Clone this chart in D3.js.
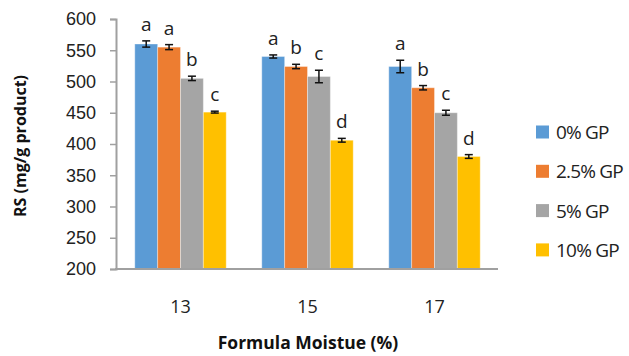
<!DOCTYPE html>
<html>
<head>
<meta charset="utf-8">
<script src="https://cdn.jsdelivr.net/npm/d3@7"></script>
<style>
  body { margin: 0; background: #fff; }
  svg { font-family: "Open Sans", "Liberation Sans", sans-serif; }
</style>
</head>
<body>
<div id="chart"></div>
<script>
const moisture = ["13", "15", "17"];
const levels = ["0% GP", "2.5% GP", "5% GP", "10% GP"];
const colors = ["#5b9bd5", "#ed7d31", "#a5a5a5", "#ffc000"];
// RS values per level, one entry per moisture
const rsValues = [
    [560, 540, 524],
    [555, 524, 490],
    [505, 508, 450],
    [451, 406, 380]
];
const rsErrors = [
    [5, 2.5, 10],
    [4, 3.5, 3.5],
    [3.5, 10, 4],
    [1.5, 3, 3]
];
const letters = [
    ["a", "a", "a"],
    ["a", "b", "b"],
    ["b", "c", "c"],
    ["c", "d", "d"]
];
const yTicks = [200, 250, 300, 350, 400, 450, 500, 550, 600];

const W = 629, H = 356;
const svg = d3.select("#chart").append("svg")
    .attr("width", W).attr("height", H);

const y = d3.scaleLinear().domain([200, 600]).range([269, 19]);
const x0 = d3.scaleBand().domain(moisture).range([117, 498]).paddingInner(0.28).paddingOuter(0.14);
const x1 = d3.scaleBand().domain(levels).range([0, x0.bandwidth()]);

// y axis
const yAxis = svg.append("g")
    .attr("transform", "translate(116,0)")
    .call(d3.axisLeft(y).tickValues(yTicks).tickSize(6).tickPadding(14));
yAxis.select(".domain").attr("stroke", "#a0a0a0").attr("stroke-width", 2);
yAxis.selectAll(".tick line").attr("stroke", "#a0a0a0").attr("stroke-width", 1.5);
yAxis.selectAll("text").attr("font-size", 18).attr("fill", "#222");

// bars
const groups = svg.append("g").selectAll("g")
    .data(moisture)
    .join("g")
    .attr("transform", d => `translate(${x0(d)},0)`);

levels.forEach((lvl, i) => {
    groups.append("rect")
        .attr("x", x1(lvl))
        .attr("width", x1.bandwidth())
        .attr("y", (d, j) => y(rsValues[i][j]))
        .attr("height", (d, j) => y(200) - y(rsValues[i][j]))
        .attr("fill", colors[i])
        .attr("stroke", "#fff").attr("stroke-opacity", 0.35).attr("stroke-width", 1);

    const cx = x1(lvl) + x1.bandwidth() / 2;
    groups.append("line")
        .attr("x1", cx).attr("x2", cx)
        .attr("y1", (d, j) => y(rsValues[i][j] + rsErrors[i][j]))
        .attr("y2", (d, j) => y(rsValues[i][j] - rsErrors[i][j]))
        .attr("stroke", "#111").attr("stroke-width", 1.5);
    [1, -1].forEach(s => {
        groups.append("line")
            .attr("x1", cx - 4).attr("x2", cx + 4)
            .attr("y1", (d, j) => y(rsValues[i][j] + s * rsErrors[i][j]))
            .attr("y2", (d, j) => y(rsValues[i][j] + s * rsErrors[i][j]))
            .attr("stroke", "#111").attr("stroke-width", 1.5);
    });
    groups.append("text")
        .attr("x", cx)
        .attr("y", (d, j) => y(rsValues[i][j] + rsErrors[i][j]) - 10)
        .attr("text-anchor", "middle")
        .attr("font-size", 19).attr("fill", "#222")
        .text((d, j) => letters[i][j]);
});

// x axis
svg.append("line")
    .attr("x1", 115).attr("x2", 498)
    .attr("y1", 269).attr("y2", 269)
    .attr("stroke", "#a0a0a0").attr("stroke-width", 2);
svg.append("g").selectAll("text")
    .data(moisture)
    .join("text")
    .attr("x", d => x0(d) + x0.bandwidth() / 2)
    .attr("y", 313)
    .attr("text-anchor", "middle")
    .attr("font-size", 18).attr("fill", "#222")
    .text(d => d);

// axis titles
svg.append("text")
    .attr("x", 308).attr("y", 349)
    .attr("text-anchor", "middle")
    .attr("font-size", 17.5).attr("font-weight", "bold").attr("fill", "#111")
    .text("Formula Moistue  (%)");
svg.append("text")
    .attr("transform", "translate(26,146) rotate(-90)")
    .attr("text-anchor", "middle")
    .attr("font-size", 16).attr("font-weight", "bold").attr("fill", "#111")
    .text("RS (mg/g product)");

// legend
const legend = svg.append("g").selectAll("g")
    .data(levels)
    .join("g")
    .attr("transform", (d, i) => `translate(536,${132 + i * 39.3})`);
legend.append("rect")
    .attr("x", 0).attr("y", -6.5)
    .attr("width", 13).attr("height", 13)
    .attr("fill", (d, i) => colors[i]);
legend.append("text")
    .attr("x", 20).attr("y", 7)
    .attr("font-size", 19).attr("fill", "#222")
    .attr("letter-spacing", -0.8)
    .text(d => d);
</script>
</body>
</html>
